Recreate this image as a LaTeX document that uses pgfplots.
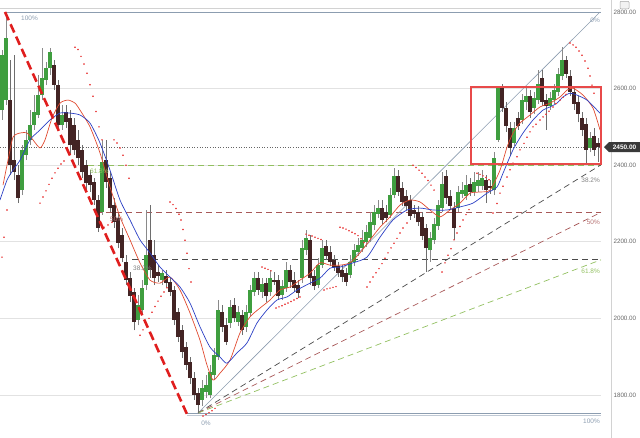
\documentclass[border=0pt]{standalone}
\usepackage{fontspec}
\setmainfont{Liberation Sans}
\usepackage{pgfplots}
\usepackage{pgfplotstable}
\pgfplotsset{compat=1.18}

\definecolor{upc}{HTML}{3F9E3F}
\definecolor{dnc}{HTML}{432424}
\definecolor{wickc}{HTML}{8A8A8A}
\definecolor{maRed}{HTML}{E04A30}
\definecolor{maBlue}{HTML}{2B3FC4}
\definecolor{sarc}{HTML}{E83A3A}
\definecolor{trendc}{HTML}{E01E1E}
\definecolor{rectc}{HTML}{E84A4A}
\definecolor{fibgray}{HTML}{8C9DB0}
\definecolor{fibgreen}{HTML}{92C060}
\definecolor{fibred}{HTML}{A85858}
\definecolor{fibblack}{HTML}{4A4A4A}
\definecolor{gridc}{HTML}{E2E2E2}
\definecolor{tickc}{HTML}{666666}
\definecolor{boxc}{HTML}{3A3A3A}

\tikzset{
  fibdash/.style={line width=0.7bp, dash pattern=on 6bp off 4bp},
  lbl/.style={font=\fontsize{6.5}{7}\selectfont, inner sep=0pt},
}

% candles: x (pixel column), open, high, low, close
\pgfplotstableread{
x o h l c
2 2544 2701 2518 2687
6 2570 2800 2557 2732
22 2335 2453 2322 2440
26 2426 2492 2413 2466
30 2466 2544 2453 2505
34 2505 2583 2492 2539
38 2531 2635 2523 2583
42 2583 2706 2570 2627
46 2622 2669 2609 2653
50 2653 2706 2635 2695
62 2505 2557 2492 2531
102 2277 2466 2270 2408
138 1996 2061 1982 2035
142 2022 2100 2009 2079
146 2087 2283 2074 2165
162 2100 2126 2087 2118
202 1787 1839 1771 1818
206 1808 1852 1792 1826
210 1800 1878 1792 1860
214 1852 1922 1839 1904
218 1899 2048 1891 2022
230 1988 2048 1975 2030
238 1990 2032 1980 2016
246 1977 2035 1964 2016
250 2014 2087 2006 2074
254 2069 2121 2058 2105
262 2069 2105 2053 2090
270 2069 2126 2058 2105
282 2061 2100 2048 2084
286 2079 2147 2069 2126
302 2105 2204 2092 2183
306 2178 2231 2165 2210
318 2087 2157 2079 2139
322 2139 2204 2131 2183
350 2113 2165 2105 2147
354 2147 2194 2136 2178
358 2173 2210 2163 2191
362 2183 2231 2173 2204
366 2199 2244 2186 2225
370 2210 2277 2199 2251
374 2244 2296 2231 2277
378 2272 2309 2262 2288
390 2270 2340 2262 2322
394 2322 2392 2314 2371
430 2178 2225 2147 2210
434 2204 2262 2194 2246
438 2241 2309 2231 2296
442 2288 2382 2277 2351
458 2288 2345 2277 2330
462 2325 2356 2314 2335
466 2319 2374 2309 2348
474 2330 2382 2319 2356
478 2345 2382 2330 2361
482 2345 2387 2335 2366
494 2335 2434 2322 2418
498 2466 2606 2460 2601
514 2458 2512 2450 2497
522 2518 2586 2507 2570
526 2565 2601 2544 2580
534 2549 2591 2533 2575
538 2570 2648 2560 2612
550 2554 2591 2544 2575
554 2570 2612 2560 2596
558 2591 2653 2580 2638
562 2632 2708 2622 2674
590 2445 2486 2434 2471
}\upcandles

\pgfplotstableread{
x o h l c
10 2570 2674 2374 2400
14 2413 2687 2361 2382
18 2374 2400 2301 2314
54 2661 2674 2596 2609
58 2609 2622 2492 2505
66 2539 2557 2497 2512
70 2523 2544 2426 2452
74 2505 2523 2426 2440
78 2466 2492 2400 2418
82 2440 2453 2366 2382
86 2400 2413 2335 2353
90 2374 2387 2330 2348
94 2356 2366 2296 2309
98 2309 2322 2225 2236
106 2413 2466 2340 2356
110 2366 2382 2277 2288
114 2296 2314 2236 2251
118 2262 2277 2183 2197
122 2217 2236 2147 2157
126 2147 2165 2087 2100
130 2105 2121 2043 2058
134 2069 2079 1969 1990
150 2204 2296 2105 2126
154 2165 2204 2087 2105
158 2121 2139 2095 2110
166 2110 2126 2079 2092
170 2095 2105 2058 2069
174 2074 2084 1982 1996
178 2016 2027 1938 1951
182 1969 1982 1896 1912
186 1925 1938 1865 1878
190 1886 1899 1828 1844
194 1844 1860 1787 1800
198 1805 1818 1753 1774
222 2016 2035 1964 1977
226 1982 2001 1930 1938
234 2035 2053 1990 2001
242 2009 2022 1956 1969
258 2105 2121 2061 2074
266 2092 2105 2043 2058
274 2100 2121 2087 2096
278 2100 2113 2048 2058
290 2126 2139 2079 2095
294 2100 2121 2069 2079
298 2087 2100 2053 2066
310 2204 2217 2087 2105
314 2110 2126 2074 2084
326 2188 2204 2152 2163
330 2173 2188 2136 2147
334 2152 2165 2124 2134
338 2136 2147 2108 2118
342 2126 2139 2095 2108
346 2118 2131 2084 2095
382 2288 2309 2246 2257
386 2277 2296 2251 2262
398 2371 2387 2319 2330
402 2340 2356 2293 2304
406 2319 2335 2283 2293
410 2309 2322 2257 2267
414 2283 2296 2262 2272
418 2277 2293 2241 2251
422 2265 2277 2204 2215
426 2236 2246 2121 2183
446 2371 2387 2299 2314
450 2319 2335 2283 2293
454 2288 2304 2204 2236
470 2351 2366 2319 2330
486 2361 2374 2301 2335
490 2345 2361 2325 2340
502 2601 2612 2539 2549
506 2549 2565 2486 2502
510 2497 2512 2424 2445
518 2523 2539 2492 2502
530 2580 2596 2523 2539
542 2627 2648 2554 2565
546 2570 2586 2492 2554
566 2674 2685 2627 2638
570 2632 2648 2580 2591
574 2591 2606 2544 2560
578 2565 2580 2512 2533
582 2523 2539 2476 2492
586 2507 2523 2405 2440
594 2476 2497 2424 2440
598 2458 2470 2408 2447
}\downcandles

% fast moving average (red)
\pgfplotstableread{
x y
3 2348
8 2413
13 2473
20 2484
27 2484
33 2466
40 2445
45 2466
52 2523
60 2562
68 2570
75 2562
80 2544
90 2500
100 2432
110 2343
120 2265
130 2205
140 2145
150 2100
160 2092
170 2108
180 2074
190 2014
200 1943
207 1878
213 1839
220 1857
230 1891
240 1962
250 2004
260 2027
270 2048
280 2074
290 2082
300 2100
310 2118
320 2145
330 2139
340 2139
350 2145
360 2171
370 2205
380 2238
390 2265
400 2296
410 2309
420 2304
430 2283
440 2265
450 2283
460 2301
470 2327
480 2330
490 2335
500 2387
507 2447
513 2484
520 2510
530 2531
540 2552
550 2562
560 2578
567 2596
573 2601
583 2583
593 2549
600 2492
}\maFast

% slow moving average (blue)
\pgfplotstableread{
x y
0 2309
7 2361
13 2387
20 2413
30 2466
40 2492
50 2518
60 2536
70 2536
80 2531
90 2510
100 2458
110 2387
120 2309
130 2257
140 2205
150 2171
160 2134
170 2108
180 2082
190 2040
200 1978
210 1925
220 1899
227 1883
237 1910
247 1936
257 1988
267 2022
277 2048
287 2056
297 2074
310 2092
320 2105
330 2131
340 2134
353 2145
367 2160
380 2212
393 2257
407 2283
420 2288
433 2283
447 2283
460 2291
473 2301
487 2327
497 2343
503 2379
513 2440
523 2484
533 2518
543 2544
550 2552
557 2562
563 2578
570 2588
577 2583
587 2570
597 2544
601 2533
}\maSlow

% parabolic SAR dots
\pgfplotstableread{
x y
2 2160
4 2212
7 2283
40 2301
43 2317
46 2333
49 2350
52 2366
55 2380
58 2392
61 2403
64 2411
75 2708
78 2702
81 2684
84 2664
87 2640
90 2610
93 2580
96 2540
99 2500
102 2466
104 2238
108 2244
112 2251
114 2466
117 2458
120 2445
123 2426
126 2400
129 2366
140 1956
143 1970
146 1986
149 2000
152 2016
155 2031
158 2045
161 2058
164 2069
167 2080
170 2304
173 2297
176 2287
179 2272
181 2257
183 2232
185 2204
187 2170
189 2130
191 2095
203 1745
206 1749
209 1754
212 1759
215 1765
262 2134
265 2131
268 2128
271 2124
276 2027
279 2030
282 2033
285 2037
288 2040
291 2044
294 2048
297 2052
300 2056
306 2220
309 2217
312 2215
315 2212
318 2209
321 2206
324 2074
327 2077
330 2079
333 2081
336 2083
340 2238
343 2236
346 2233
349 2229
352 2225
355 2221
358 2216
361 2208
364 2198
367 2082
370 2095
373 2108
376 2119
379 2130
382 2143
385 2157
388 2171
391 2184
394 2196
397 2209
400 2223
403 2236
407 2249
413 2400
416 2394
419 2387
422 2379
425 2369
428 2360
431 2348
434 2335
442 2121
445 2145
448 2165
451 2182
454 2205
457 2223
460 2240
463 2257
466 2271
469 2284
477 2379
480 2376
483 2372
486 2368
489 2362
493 2275
497 2300
500 2327
503 2345
507 2369
510 2388
513 2405
517 2422
520 2440
524 2457
527 2473
530 2487
533 2500
536 2507
540 2518
543 2526
546 2533
549 2541
553 2552
556 2561
560 2570
563 2577
566 2585
570 2719
573 2714
576 2708
579 2698
582 2687
585 2672
588 2653
590 2633
592 2609
594 2588
}\sar

\begin{document}
\begin{tikzpicture}
\begin{axis}[
  at={(0,0)}, anchor=south west,
  scale only axis, width=611bp, height=438bp,
  xmin=0, xmax=611, ymin=1687.7, ymax=2831.3,
  enlargelimits=false,
  axis line style={draw=none},
  xtick=\empty,
  ytick={1800,2000,2200,2400,2600,2800},
  ytick pos=right, yticklabel pos=right,
  major tick length=0pt,
  scaled y ticks=false,
  yticklabel style={font=\fontsize{6.3}{7}\selectfont, text=tickc, xshift=-1bp,
    /pgf/number format/fixed, /pgf/number format/fixed zerofill,
    /pgf/number format/precision=2, /pgf/number format/1000 sep={},
    /pgf/number format/assume math mode=true},
  clip mode=individual,
]
% grid and frame lines
\addplot[gridc, line width=0.6bp] coordinates {(0,1800) (601,1800)};
\addplot[gridc, line width=0.6bp] coordinates {(0,2000) (601,2000)};
\addplot[gridc, line width=0.6bp] coordinates {(0,2200) (601,2200)};
\addplot[gridc, line width=0.6bp] coordinates {(0,2400) (601,2400)};
\addplot[gridc, line width=0.6bp] coordinates {(0,2600) (601,2600)};
\addplot[gray!35, line width=0.7bp] coordinates {(0,2810) (601,2810)};
\addplot[fibgray, line width=0.8bp] coordinates {(5,2800) (601,2800)};
\addplot[fibgray, line width=0.8bp] coordinates {(187,1753) (601,1753)};
\addplot[fibgray!55, line width=0.6bp] coordinates {(187,1746) (601,1746)};
\addplot[gray!80!black, dotted, line width=0.6bp] coordinates {(0,2447) (601,2447)};

% fibonacci retracement levels
\addplot[fibgreen, fibdash] coordinates {(88,2400) (601,2400)};
\addplot[fibred, fibdash] coordinates {(96,2276) (601,2276)};
\addplot[fibblack, fibdash] coordinates {(132,2153) (601,2153)};

% fibonacci fan
\addplot[fibgray, line width=0.6bp] coordinates {(198,1753) (600,2800)};
\addplot[fibblack, fibdash] coordinates {(198,1753) (601,2401)};
\addplot[fibred, fibdash] coordinates {(198,1753) (601,2277)};
\addplot[fibgreen, fibdash] coordinates {(198,1753) (601,2153)};

% candle wicks
\addplot[draw=none, no markers, error bars/.cd, y dir=plus, y explicit, error mark=none,
  error bar style={line width=0.8bp, draw=wickc}]
  table[x=x, y=l, y error plus expr=\thisrow{h}-\thisrow{l}] {\upcandles};
\addplot[draw=none, no markers, error bars/.cd, y dir=plus, y explicit, error mark=none,
  error bar style={line width=0.8bp, draw=wickc!80!black}]
  table[x=x, y=l, y error plus expr=\thisrow{h}-\thisrow{l}] {\downcandles};
% candle bodies
\addplot[draw=none, no markers, error bars/.cd, y dir=plus, y explicit, error mark=none,
  error bar style={line width=3.1bp, draw=upc}]
  table[x=x, y=o, y error plus expr=\thisrow{c}-\thisrow{o}] {\upcandles};
\addplot[draw=none, no markers, error bars/.cd, y dir=plus, y explicit, error mark=none,
  error bar style={line width=3.1bp, draw=dnc}]
  table[x=x, y=c, y error plus expr=\thisrow{o}-\thisrow{c}] {\downcandles};

% moving averages
\addplot[maRed, line width=0.7bp, smooth, tension=0.4] table[x=x, y=y] {\maFast};
\addplot[maBlue, line width=0.7bp, smooth, tension=0.4] table[x=x, y=y] {\maSlow};

% parabolic SAR
\addplot[only marks, mark=*, mark size=0.55bp, sarc] table[x=x, y=y] {\sar};

% trend line of the decline
\addplot[trendc, line width=2.6bp, dash pattern=on 9bp off 4.5bp] coordinates {(5,2800) (187,1750)};

% highlight box
\draw[rectc, line width=2.2bp] (axis cs:471,2604) rectangle (axis cs:601,2403);

% labels
\node[lbl, text=fibgray, anchor=west] at (axis cs:21,2784) {100\%};
\node[lbl, text=fibgray, anchor=east] at (axis cs:600,2779) {0\%};
\node[lbl, text=fibgray] at (axis cs:206,1727) {0\%};
\node[lbl, text=fibgray, anchor=east] at (axis cs:600,1732) {100\%};
\node[lbl, text=gray, anchor=east] at (axis cs:600,2361) {38.2\%};
\node[lbl, text=fibred!85, anchor=east] at (axis cs:600,2251) {50\%};
\node[lbl, text=fibgreen, anchor=east] at (axis cs:600,2124) {61.8\%};
\node[lbl, text=fibgreen, anchor=west] at (axis cs:90,2384) {61.8\%};
\node[lbl, text=fibred!85, anchor=west] at (axis cs:110,2258) {50\%};
\node[lbl, text=gray, anchor=west] at (axis cs:133,2132) {38.2\%};

% right axis line, price box, corner icon
\draw[gray!35, line width=0.6bp] (axis cs:611,1687.7) -- (axis cs:611,2831.3);
\fill[boxc] (axis cs:604,2447) -- (axis cs:609,2460) -- (axis cs:640,2460)
  -- (axis cs:640,2434) -- (axis cs:609,2434) -- cycle;
\node[lbl, text=white, font=\bfseries\fontsize{6.5}{7}\selectfont] at (axis cs:624.5,2447) {2450.00};
\draw[gray!70, line width=0.5bp, rounded corners=1bp, fill=gray!10] (axis cs:620,2828) rectangle (axis cs:629,2808);
\end{axis}
\pgfresetboundingbox
\path[use as bounding box] (0,0) rectangle (640bp,438bp);
\end{tikzpicture}
\end{document}
